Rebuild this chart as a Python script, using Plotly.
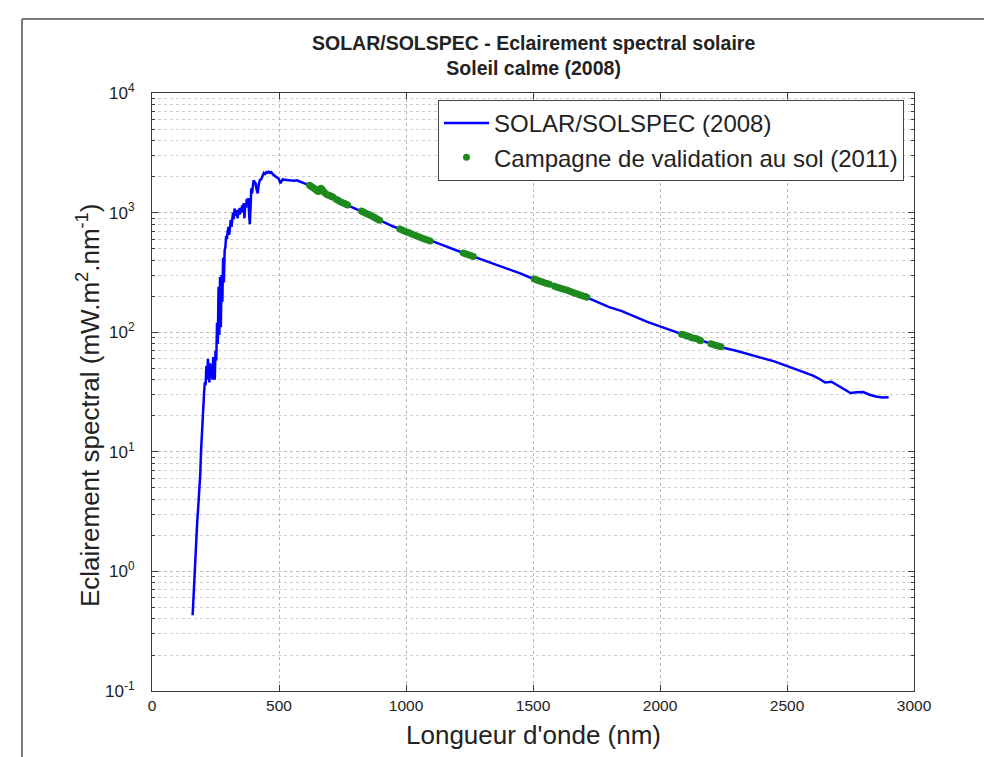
import plotly.graph_objects as go

# ---- data ----
wl_solspec = [160, 163, 166, 169, 172, 175, 178, 181, 184, 187, 190, 193, 196, 199, 202, 205, 208,
              211, 214, 217, 220, 223, 226, 229, 232, 235, 238, 241, 244, 247, 250, 253, 256, 259,
              262, 265, 268, 271, 274, 277, 280, 283, 286, 289, 292, 295, 298, 301, 304, 307, 310,
              313, 316, 319, 322, 325, 328, 331, 334, 337, 340, 343, 346, 349, 352, 355, 358, 361,
              364, 367, 370, 373, 376, 379, 382, 385, 388, 391, 394, 397, 400, 404, 408, 412, 416,
              420, 425, 430, 435, 440, 445, 450, 455, 460, 465, 470, 475, 480, 485, 490, 495, 500,
              505, 510, 515, 520, 530, 540, 550, 560, 570, 580, 600, 620, 640, 660, 680, 700, 725,
              750, 775, 800, 850, 900, 950, 1000, 1050, 1100, 1150, 1200, 1250, 1300, 1350, 1400,
              1450, 1500, 1550, 1600, 1650, 1700, 1750, 1800, 1850, 1900, 1950, 2000, 2050, 2100,
              2150, 2200, 2250, 2300, 2350, 2400, 2450, 2500, 2550, 2600, 2625, 2650, 2675, 2700,
              2725, 2750, 2775, 2800, 2825, 2850, 2875, 2900]
irr_solspec = [0.43, 0.6, 0.93, 1.3, 1.8, 2.2, 2.6, 3.2, 3.9, 4.6, 6.5, 10, 14, 19, 25, 31, 38,
               36, 52, 40, 60, 45, 38, 55, 42, 50, 40, 62, 48, 40, 70, 58, 120, 80,
               240, 95, 290, 110, 300, 180, 420, 260, 480, 520, 640, 600, 700, 760, 650, 820, 870,
               760, 940, 1000, 880, 1080, 1000, 940, 1050, 900, 1000, 1080, 960, 1100, 1000, 1150, 1050, 1200,
               900, 1180, 1100, 1300, 1200, 1320, 1000, 800, 1100, 1600, 1450, 1750, 1860, 1800, 1750, 1550, 1450,
               1700, 1880, 1900, 2050, 2140, 2100, 2180, 2150, 2200, 2150, 2180, 2100, 2050, 2000, 1980, 1950, 1900,
               1760, 1850, 1900, 1880, 1870, 1880, 1870, 1850, 1860, 1830, 1760, 1690, 1600, 1520, 1440, 1370, 1280,
               1210, 1140, 1080, 960, 850, 765, 700, 635, 580, 530, 482, 442, 405, 372, 342,
               310, 280, 255, 235, 218, 200, 180, 162, 150, 135, 122, 112, 102, 94,
               87, 80, 74, 70, 65, 61, 57, 52, 48, 43.5, 41, 38, 38.5, 36,
               33.5, 31, 31.5, 31.6, 30, 29, 28.5, 28.6]

wl_sol2011 = [620, 626, 632, 638, 644, 650, 655, 660, 665, 670, 676, 682,
              690, 696, 702, 708, 712,
              725, 732, 740, 748, 756, 764, 770,
              825, 832, 840, 848, 856, 864, 872, 880, 888, 896,
              975, 985, 995, 1005, 1015, 1025, 1035, 1045, 1055, 1065, 1075, 1085, 1095,
              1225, 1235, 1245, 1255, 1265,
              1505, 1515, 1525, 1535, 1545, 1555, 1565,
              1585, 1595, 1605, 1615, 1625, 1635, 1645, 1655, 1665, 1675, 1685, 1695, 1705, 1712,
              2085, 2095, 2105, 2115, 2125, 2135, 2145, 2155, 2160,
              2200, 2210, 2220, 2230, 2240]
irr_sol2011 = [1690, 1660, 1630, 1600, 1560, 1520, 1500, 1560, 1600, 1560, 1500, 1450,
               1410, 1395, 1380, 1360, 1350,
               1290, 1270, 1240, 1215, 1195, 1175, 1160,
               1030, 1010, 990, 975, 960, 940, 920, 900, 880, 865,
               730, 715, 700, 685, 675, 660, 648, 635, 622, 610, 600, 590, 580,
               460, 452, 445, 437, 430,
               278, 273, 268, 264, 259, 255, 252,
               242, 238, 234, 231, 227, 224, 220, 216, 212, 209, 205, 202, 199, 196,
               96, 95, 93, 92, 90, 89, 88, 86, 85,
               80, 79, 77.5, 76.5, 75.5]

x_ticks = [0, 500, 1000, 1500, 2000, 2500, 3000]
y_ticks = [0.1, 1, 10, 100, 1000, 10000]
y_ticktext = ["10<sup>-1</sup>", "10<sup>0</sup>", "10<sup>1</sup>", "10<sup>2</sup>",
              "10<sup>3</sup>", "10<sup>4</sup>"]

FONT = "Liberation Sans, Arial, Helvetica, sans-serif"
GRID = "#b8b8b8"
AX = "#3c3c3c"

fig = go.Figure()
fig.add_trace(go.Scatter(x=wl_solspec, y=irr_solspec, mode="lines",
                         line=dict(color="#0000ff", width=2.5),
                         name="SOLAR/SOLSPEC (2008)"))
fig.add_trace(go.Scatter(x=wl_sol2011, y=irr_sol2011, mode="markers",
                         marker=dict(color="#1e8a1e", size=7),
                         name="Campagne de validation au sol (2011)"))

L, R, T, B = 144, 86, 85, 74
W, H = 992, 757
pw, ph = W - L - R, H - T - B

def px(xp):
    return (xp - L) / pw

def py(yp):
    return (H - B - yp) / ph

fig.update_layout(
    width=W, height=H,
    margin=dict(l=L, r=R, t=T, b=B, pad=0),
    paper_bgcolor="white", plot_bgcolor="white",
    font=dict(family=FONT, color="#222222"),
    showlegend=True,
    legend=dict(x=px(896), y=py(92), xanchor="right", yanchor="top",
                bgcolor="white", bordercolor="#444444", borderwidth=1,
                font=dict(size=24, family=FONT, color="#222222"),
                tracegroupgap=0, itemwidth=45),
    xaxis=dict(range=[0, 3000], tickvals=x_ticks, ticks="inside", ticklen=6,
               tickcolor=AX, showline=True, linecolor=AX, linewidth=1, mirror="allticks",
               showgrid=True, gridcolor=GRID, griddash="dot", gridwidth=1,
               zeroline=False, tickfont=dict(size=15.5, family=FONT, color="#222222")),
    yaxis=dict(type="log", range=[-1, 4], tickvals=y_ticks, ticktext=y_ticktext,
               ticks="inside", ticklen=6, tickcolor=AX, showline=True, linecolor=AX,
               linewidth=1, mirror="allticks", ticklabelstandoff=13,
               showgrid=True, gridcolor=GRID, griddash="dot", gridwidth=1,
               zeroline=False, tickfont=dict(size=17, family=FONT, color="#222222"),
               minor=dict(ticks="inside", ticklen=3, tickcolor=AX, dtick="D1",
                          showgrid=True, gridcolor="#cfcfcf", griddash="dot", gridwidth=1)),
)

# title
fig.add_annotation(text="<b>SOLAR/SOLSPEC - Eclairement spectral solaire</b><br><b>Soleil calme (2008)</b>",
                   xref="paper", yref="paper", x=0.5, y=py(48), xanchor="center", yanchor="middle",
                   showarrow=False, font=dict(size=19.5, family=FONT, color="#222222"))
# axis titles
fig.add_annotation(text="Longueur d'onde (nm)", xref="paper", yref="paper",
                   x=0.5, y=py(727), xanchor="center", yanchor="middle", showarrow=False,
                   font=dict(size=26, family=FONT, color="#222222"))
fig.add_annotation(text="Eclairement spectral (mW.m<sup>2</sup>.nm<sup>-1</sup>)",
                   xref="paper", yref="paper", x=px(80), y=py(398), xanchor="center",
                   yanchor="middle", textangle=-90, showarrow=False,
                   font=dict(size=26, family=FONT, color="#222222"))

# outer figure frame (top and left edges)
fig.add_shape(type="line", xref="paper", yref="paper", x0=px(14), x1=px(W + 5), y0=py(11), y1=py(11),
              line=dict(color="#7a7a7a", width=2))
fig.add_shape(type="line", xref="paper", yref="paper", x0=px(14), x1=px(14), y0=py(11), y1=py(H + 5),
              line=dict(color="#7a7a7a", width=2))

fig.write_html("out.html")
